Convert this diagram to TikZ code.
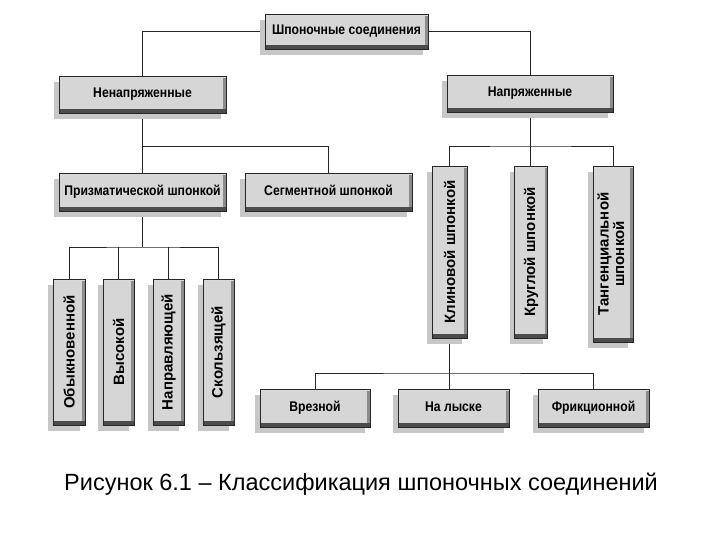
\documentclass[tikz,border=0pt]{standalone}
\usepackage{fontspec}
\setmainfont{Liberation Sans}
\newfontfamily\boxfontfam{Liberation Sans}[FakeStretch=0.87]
\usetikzlibrary{shadows,backgrounds}
\tikzset{
  box/.style={draw=black!85, line width=0.6pt, fill=black!16, inner sep=0pt,
    font=\boxfontfam\bfseries\fontsize{14}{15}\selectfont, align=center,
    drop shadow={shadow xshift=-5pt, shadow yshift=-6pt, fill=black!22, opacity=1},
    path picture={
      \fill[black!70] (path picture bounding box.south west) rectangle ([yshift=4pt]path picture bounding box.south east);
      \fill[black!45] ([xshift=-3pt]path picture bounding box.north east) rectangle ([yshift=4pt]path picture bounding box.south east);
      \fill[white!85!black] (path picture bounding box.north west) rectangle ([yshift=-2pt]path picture bounding box.north east);
    }},
  hbox/.style={box, minimum width=#1, minimum height=37pt, text height=10pt, text depth=3pt},
  vbox/.style={box, minimum width=#1, font=\bfseries\fontsize{15}{15}\selectfont},
  conn/.style={draw=black!85, line width=0.6pt}
}
\newcommand{\vt}[1]{\rotatebox{90}{#1}}
\begin{document}
\begin{tikzpicture}[x=1pt,y=-1pt]
\useasboundingbox (0,0) rectangle (720,540);
\node[hbox=163pt, minimum height=35pt] (top) at (346.5,31.5) {Шпоночные соединения};
\node[hbox=167pt] (nen) at (142.5,94.5) {Ненапряженные};
\node[hbox=166pt] (nap) at (530,93.5) {Напряженные};
\node[hbox=167pt, minimum height=38pt] (prism) at (142.5,192) {Призматической шпонкой};
\node[hbox=167pt, minimum height=38pt] (seg) at (328.5,192) {Сегментной шпонкой};
\node[vbox=35pt, minimum height=172pt] (klin) at (449.5,252) {\vt{Клиновой шпонкой}};
\node[vbox=33pt, minimum height=172pt] (krug) at (531,252) {\vt{Круглой шпонкой}};
\node[vbox=40pt, minimum height=176pt] (tang) at (613,254) {\vt{\begin{tabular}{@{}c@{}}Тангенциальной\\[0pt]шпонкой\end{tabular}}};
\node[vbox=32pt, minimum height=146pt] (obyk) at (69,352) {\vt{Обыкновенной}};
\node[vbox=31pt, minimum height=146pt] (vys) at (118.5,352) {\vt{Высокой}};
\node[vbox=31pt, minimum height=146pt] (napr) at (168.5,352) {\vt{Направляющей}};
\node[vbox=31pt, minimum height=146pt] (skol) at (218.5,352) {\vt{Скользящей}};
\node[hbox=110pt, minimum height=38pt] (vrez) at (315,408) {Врезной};
\node[hbox=111pt, minimum height=38pt] (lyske) at (453.5,408) {На лыске};
\node[hbox=111pt, minimum height=38pt] (frik) at (593.5,408) {Фрикционной};
\node[font=\fontsize{23.5}{26}\selectfont, anchor=base] (cap) at (361,490) {Рисунок 6.1 – Классификация шпоночных соединений};
\coordinate (j1) at (141,146);
\coordinate (j2) at (530,146);
\coordinate (j3) at (141,247);
\coordinate (j4) at (449.5,373);
\begin{scope}[on background layer]
\fill[white] (0,0) rectangle (720,540);
\draw[conn] (top.west) -| (nen.north);
\draw[conn] (top.east) -| (nap.north);
\draw[conn] (nen.south) -- (nen.south |- j1) -| (seg.north);
\draw[conn] (nen.south |- j1) -- (prism.north);
\draw[conn] (nap.south) -- (j2);
\draw[conn] (klin.north) |- (j2) -| (tang.north);
\draw[conn] (j2) -- (j2 |- krug.north);
\draw[conn] (prism.south) -- (prism.south |- j3);
\draw[conn] (obyk.north) |- (prism.south |- j3) -| (skol.north);
\draw[conn] (vys.north) -- (vys.north |- j3);
\draw[conn] (napr.north) -- (napr.north |- j3);
\draw[conn] (klin.south) -- (j4);
\draw[conn] (vrez.north) |- (j4) -| (frik.north);
\draw[conn] (j4) -- (j4 |- lyske.north);
\end{scope}
\end{tikzpicture}
\end{document}
